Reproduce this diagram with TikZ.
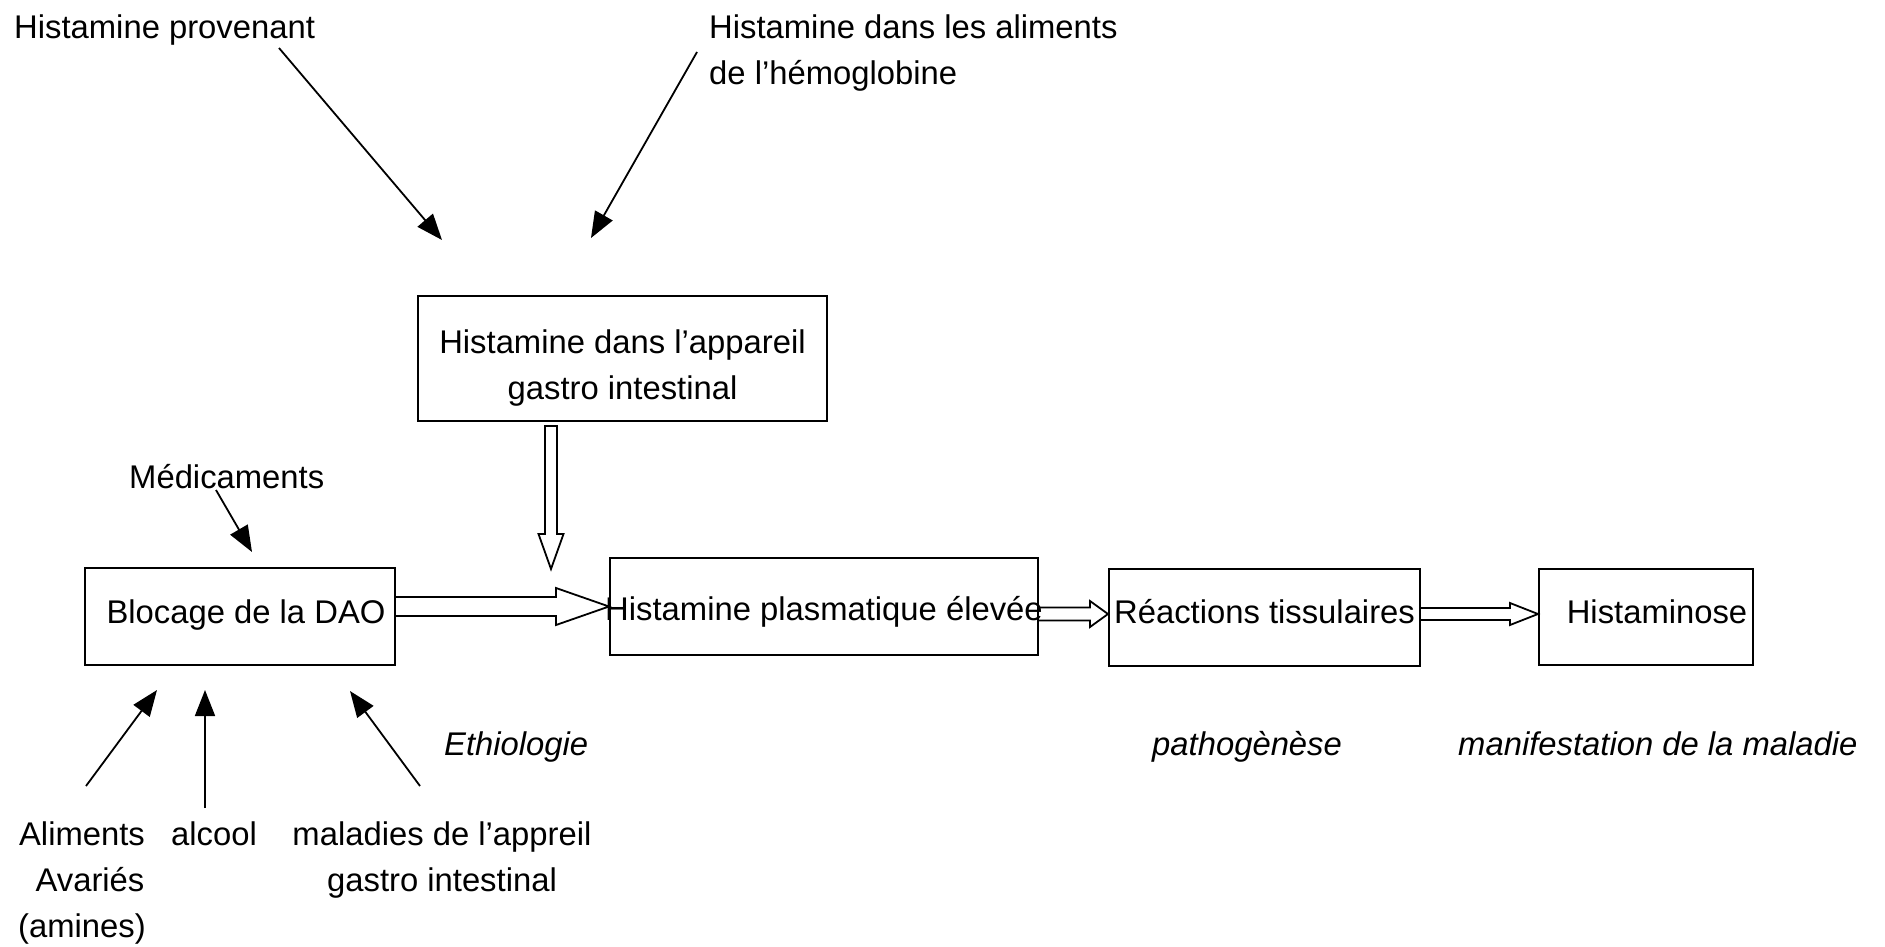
\documentclass[tikz,border=0pt]{standalone}
\usepackage{fontspec}
\setmainfont{Liberation Sans}
\usetikzlibrary{arrows.meta,calc}
\newcommand\mlines[2][c]{\begin{tabular}[t]{@{}#1@{}}#2\end{tabular}}
% hollow block arrow: start, tip, shaft half width, head half width, head length (horizontal, pointing right)
\newcommand\hollowright[5]{%
  \draw[hollow] ($(#1)+(0,-#3)$) -- ($(#2)+(-#5,-#3)$) -- ($(#2)+(-#5,-#4)$) -- (#2)
    -- ($(#2)+(-#5,#4)$) -- ($(#2)+(-#5,#3)$) -- ($(#1)+(0,#3)$);}
\begin{document}
\begin{tikzpicture}[x=1pt,y=-1pt,
  every node/.style={font=\fontsize{32.8pt}{46pt}\selectfont, inner sep=0pt},
  box/.style={draw, line width=2pt, inner sep=0pt},
  conn/.style={line width=1.8pt, -{Triangle[length=26pt,width=20pt]}},
  hollow/.style={line width=1.8pt, line join=miter},
  lbl/.style={anchor=base west},
  it/.style={font=\fontsize{32.8pt}{46pt}\selectfont\itshape}
]
\useasboundingbox (0,0) rectangle (1885,946);

% boxes
\node[box, minimum width=409pt, text height=57pt, text depth=68pt, anchor=base] (gi) at (622.5,353)
  {\mlines{Histamine dans l'appareil\\gastro intestinal}};
\node[box, minimum width=310pt, text height=55pt, text depth=42pt, anchor=base] (dao) at (240,623)
  {\makebox[0pt]{\hspace{12pt}Blocage de la DAO}};
\node[box, minimum width=428pt, text height=62pt, text depth=35pt, anchor=base] (plasma) at (824,620)
  {\makebox[0pt]{Histamine plasmatique élevée}};
\node[box, minimum width=311pt, text height=54pt, text depth=43pt, anchor=base] (tissue) at (1264.5,623)
  {\makebox[0pt]{Réactions tissulaires}};
\node[box, minimum width=214pt, text height=54pt, text depth=42pt, anchor=base] (histaminose) at (1646,623)
  {\makebox[0pt]{\hspace{22pt}Histaminose}};

% free labels
\node[lbl] (src1) at (14,38) {Histamine provenant};
\node[lbl] (src2) at (709,38) {\mlines[l]{Histamine dans les aliments\\de l'hémoglobine}};
\node[lbl] (med) at (129,488) {Médicaments};
\node[anchor=base] (alim) at (82,845) {\mlines{Aliments\\\hspace{16pt}Avariés\\(amines)}};
\node[anchor=base] (alc) at (214,845) {alcool};
\node[anchor=base] (mal) at (442,845) {\mlines{maladies de l'appreil\\gastro intestinal}};
\node[lbl, it] (eth) at (444,755) {Ethiologie};
\node[lbl, it] (path) at (1152,755) {pathogènèse};
\node[lbl, it] (manif) at (1458,755) {manifestation de la maladie};

% thin arrows
\coordinate (a1s) at (279,48);  \coordinate (a1e) at (442,240);
\coordinate (a2s) at (697,52);  \coordinate (a2e) at (591,238);
\coordinate (m1s) at (216,490); \coordinate (m1e) at (252,552);
\coordinate (b1s) at (86,786);  \coordinate (b1e) at (157,690);
\coordinate (b2s) at (205,808); \coordinate (b2e) at (205,690);
\coordinate (b3s) at (420,786); \coordinate (b3e) at (350,691);
\draw[conn] (a1s) -- (a1e);
\draw[conn] (a2s) -- (a2e);
\draw[conn] (m1s) -- (m1e);
\draw[conn] (b1s) -- (b1e);
\draw[conn] (b2s) -- (b2e);
\draw[conn] (b3s) -- (b3e);

% hollow block arrows
\coordinate (h1s) at (dao.east |- plasma.west);
\hollowright{h1s}{plasma.west}{9.5}{18.5}{53}
\coordinate (h2e) at ($(tissue.west)+(0,-3.5)$);
\coordinate (h2s) at (plasma.east |- h2e);
\hollowright{h2s}{h2e}{6.5}{13}{18}
\coordinate (h3e) at ($(histaminose.west)+(0,-3)$);
\coordinate (h3s) at (tissue.east |- h3e);
\hollowright{h3s}{h3e}{6}{11}{28}

% down hollow arrow
\coordinate (dts) at ($(gi.south)+(-71.5,4)$);
\coordinate (dte) at ($(gi.south)+(-71.5,147)$);
\draw[hollow] ($(dts)+(-6,0)$) -- ($(dte)+(-6,-35)$) -- ($(dte)+(-12.5,-35)$) -- (dte)
  -- ($(dte)+(12.5,-35)$) -- ($(dte)+(6,-35)$) -- ($(dts)+(6,0)$) -- cycle;
\end{tikzpicture}
\end{document}
